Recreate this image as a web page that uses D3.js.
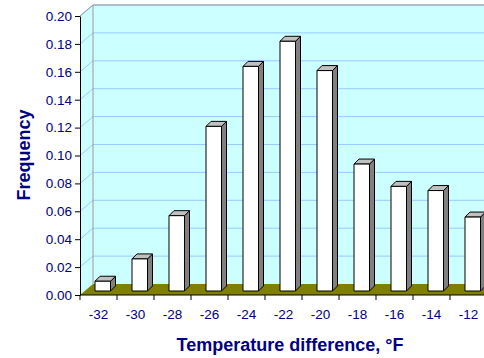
<!DOCTYPE html>
<html>
<head>
<meta charset="utf-8">
<script src="https://cdn.jsdelivr.net/npm/d3@7"></script>
<style>
  body { margin: 0; background: #fff; }
  svg { display: block; font-family: "Liberation Sans", Arial, sans-serif; }
</style>
</head>
<body>
<div class="grafico"></div>
<script>
// datos
var categorias = ["-32", "-30", "-28", "-26", "-24", "-22", "-20", "-18", "-16", "-14", "-12"];
var frecuencias = [0.007, 0.023, 0.054, 0.118, 0.161, 0.179, 0.158, 0.091, 0.075, 0.072, 0.053];
var yTicks = [0, 0.02, 0.04, 0.06, 0.08, 0.10, 0.12, 0.14, 0.16, 0.18, 0.20];

var width = 484, height = 358;
var navy = "#000080";
var dx = 13, dy = -11;      // profundidad de las paredes
var bd = 5;                 // profundidad de la barra

var svg = d3.select(".grafico").append("svg")
  .attr("width", width)
  .attr("height", height);

var xScale = d3.scaleBand()
  .domain(categorias)
  .range([80, 487]);

var yScale = d3.scaleLinear()
  .domain([0, 0.2])
  .range([295, 16]);

var left = 80, right = 487;
var y0 = yScale(0), yTop = yScale(0.2);

// pared lateral
svg.append("polygon")
  .attr("points", [[left, y0], [left, yTop], [left + dx, yTop + dy], [left + dx, y0 + dy]].join(" "))
  .attr("fill", "#ccffff");

// pared de fondo
svg.append("rect")
  .attr("x", left + dx)
  .attr("y", yTop + dy)
  .attr("width", right - left + 20)
  .attr("height", y0 - yTop)
  .attr("fill", "#ccffff");

// lineas de cuadricula
yTicks.filter(function(t) { return t > 0; }).forEach(function(t) {
  var yy = yScale(t);
  svg.append("line")
    .attr("x1", left).attr("y1", yy)
    .attr("x2", left + dx).attr("y2", yy + dy)
    .attr("stroke", "#99ccff").attr("stroke-width", 1);
  svg.append("line")
    .attr("x1", left + dx).attr("y1", yy + dy)
    .attr("x2", right + 20).attr("y2", yy + dy)
    .attr("stroke", "#99ccff").attr("stroke-width", 1);
});

// bordes de la pared
svg.append("path")
  .attr("d", "M" + left + "," + yTop + "L" + (left + dx) + "," + (yTop + dy) + "L" + (right + 20) + "," + (yTop + dy)
    + "M" + (left + dx) + "," + (yTop + dy) + "L" + (left + dx) + "," + (y0 + dy))
  .attr("fill", "none")
  .attr("stroke", "#999999")
  .attr("stroke-width", 1);

// piso
svg.append("polygon")
  .attr("points", [[left, y0], [left + dx, y0 + dy], [right + dx + 20, y0 + dy], [right + 20, y0]].join(" "))
  .attr("fill", "#808000");

// barras
var barW = 15.5, offX = 15, offY = -4;
frecuencias.forEach(function(v, i) {
  var x = xScale(categorias[i]) + offX;
  var yb = y0 + offY;
  var yt = yScale(v) + offY;
  var g = svg.append("g")
    .attr("stroke", "#000")
    .attr("stroke-width", 1)
    .attr("stroke-linejoin", "round");
  g.append("polygon")
    .attr("points", [[x + barW, yt], [x + barW + bd, yt - bd], [x + barW + bd, yb - bd], [x + barW, yb]].join(" "))
    .attr("fill", "#808080");
  g.append("polygon")
    .attr("points", [[x, yt], [x + bd, yt - bd], [x + barW + bd, yt - bd], [x + barW, yt]].join(" "))
    .attr("fill", "#c0c0c0");
  g.append("rect")
    .attr("x", x).attr("y", yt)
    .attr("width", barW).attr("height", yb - yt)
    .attr("fill", "#ffffff");
});

// eje Y
var ejeY = svg.append("g")
  .attr("transform", "translate(" + left + ",0)")
  .call(d3.axisLeft(yScale).tickValues(yTicks).tickSize(5).tickSizeOuter(0).tickPadding(3).tickFormat(d3.format(".2f")));
ejeY.select(".domain").attr("stroke", "#000");
ejeY.selectAll(".tick line").attr("stroke", "#000");
ejeY.selectAll("text")
  .attr("fill", navy)
  .style("font-size", "13.5px")
  .style("font-family", "Liberation Sans, Arial, sans-serif");

// eje X
var ejeX = svg.append("g")
  .attr("transform", "translate(0," + y0 + ")")
  .call(d3.axisBottom(xScale).tickSize(0).tickPadding(14));
ejeX.select(".domain").remove();
ejeX.selectAll("text")
  .attr("fill", navy)
  .style("font-size", "13.5px")
  .style("font-family", "Liberation Sans, Arial, sans-serif");

svg.append("line")
  .attr("x1", left).attr("y1", y0)
  .attr("x2", width).attr("y2", y0)
  .attr("stroke", "#000");

categorias.concat([null]).forEach(function(c, i) {
  var xx = i < categorias.length ? xScale(c) : xScale.range()[1];
  svg.append("line")
    .attr("x1", xx).attr("y1", y0)
    .attr("x2", xx).attr("y2", y0 + 5)
    .attr("stroke", "#000");
});

// titulos
svg.append("text")
  .attr("x", 290)
  .attr("y", 351)
  .attr("text-anchor", "middle")
  .attr("fill", navy)
  .style("font-size", "18px")
  .style("font-weight", "bold")
  .text("Temperature difference, °F");

svg.append("text")
  .attr("transform", "translate(30,155) rotate(-90)")
  .attr("text-anchor", "middle")
  .attr("fill", navy)
  .style("font-size", "18px")
  .style("font-weight", "bold")
  .text("Frequency");
</script>
</body>
</html>
